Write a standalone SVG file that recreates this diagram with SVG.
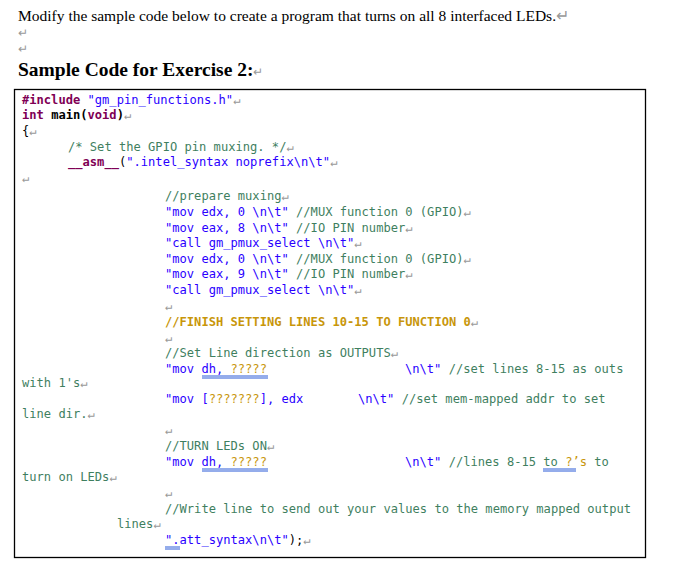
<svg xmlns="http://www.w3.org/2000/svg" width="679" height="577" viewBox="0 0 679 577">
<style>
.s{font-family:"Liberation Serif",serif;fill:#000}
.m{font-family:"DejaVu Sans Mono","Liberation Mono",monospace;font-size:12.1px;fill:#000}
.k{fill:#7f0055;font-weight:bold}
.b{font-weight:bold}
.q{fill:#2a00ff}
.c{fill:#3f7f5f}
.y{fill:#c8960a}
.yb{fill:#c8960a;font-weight:bold}
.r{fill:#999}
.u{stroke:#2a5bd7;stroke-width:1}
</style>
<rect width="679" height="577" fill="#fff"/>
<text class="s" x="18" y="21" font-size="15.5">Modify the sample code below to create a program that turns on all 8 interfaced LEDs.<tspan class="r">↵</tspan></text>
<text class="s r" x="18" y="37" font-size="12">↵</text>
<text class="s r" x="18" y="53" font-size="12">↵</text>
<text class="s b" x="18" y="76" font-size="19.5">Sample Code for Exercise 2:<tspan class="r" font-weight="normal" font-size="12">↵</tspan></text>
<rect x="14.5" y="89.5" width="631" height="468" fill="none" stroke="#000" stroke-width="1.3"/>
<g class="m" xml:space="preserve">
<text x="22" y="104"><tspan class="k">#include</tspan> <tspan class="q">"gm_pin_functions.h"</tspan><tspan class="r">↵</tspan></text>
<text x="22" y="119"><tspan class="k">int</tspan> <tspan class="b">main(</tspan><tspan class="k">void</tspan><tspan class="b">)</tspan><tspan class="r">↵</tspan></text>
<text x="22" y="135">{<tspan class="r">↵</tspan></text>
<text x="68" y="151"><tspan class="c">/* Set the GPIO pin muxing. */</tspan><tspan class="r">↵</tspan></text>
<text x="68" y="166"><tspan class="k">__asm__</tspan>(<tspan class="q">".intel_syntax noprefix\n\t"</tspan><tspan class="r">↵</tspan></text>
<text x="22" y="182" class="r">↵</text>
<text x="165" y="200"><tspan class="c">//prepare muxing</tspan><tspan class="r">↵</tspan></text>
<text x="165" y="216"><tspan class="q">"mov edx, 0 \n\t"</tspan> <tspan class="c">//MUX function 0 (GPIO)</tspan><tspan class="r">↵</tspan></text>
<text x="165" y="232"><tspan class="q">"mov eax, 8 \n\t"</tspan> <tspan class="c">//IO PIN number</tspan><tspan class="r">↵</tspan></text>
<text x="165" y="247"><tspan class="q">"call gm_pmux_select \n\t"</tspan><tspan class="r">↵</tspan></text>
<text x="165" y="263"><tspan class="q">"mov edx, 0 \n\t"</tspan> <tspan class="c">//MUX function 0 (GPIO)</tspan><tspan class="r">↵</tspan></text>
<text x="165" y="278"><tspan class="q">"mov eax, 9 \n\t"</tspan> <tspan class="c">//IO PIN number</tspan><tspan class="r">↵</tspan></text>
<text x="165" y="294"><tspan class="q">"call gm_pmux_select \n\t"</tspan><tspan class="r">↵</tspan></text>
<text x="165" y="310" class="r">↵</text>
<text x="165" y="326"><tspan class="yb">//FINISH SETTING LINES 10-15 TO FUNCTION 0</tspan><tspan class="r">↵</tspan></text>
<text x="165" y="342" class="r">↵</text>
<text x="165" y="357"><tspan class="c">//Set Line direction as OUTPUTS</tspan><tspan class="r">↵</tspan></text>
<text x="165" y="373"><tspan class="q">"mov dh, </tspan><tspan class="y">?????</tspan></text>
<text x="405" y="373"><tspan class="q">\n\t"</tspan>  <tspan class="c">//set lines 8-15 as outs</tspan></text>
<text x="22" y="387"><tspan class="c">with 1's</tspan><tspan class="r">↵</tspan></text>
<text x="165" y="403"><tspan class="q">"mov [</tspan><tspan class="y">???????</tspan><tspan class="q">], edx</tspan></text>
<text x="358" y="403"><tspan class="q">\n\t"</tspan>  <tspan class="c">//set mem-mapped addr to set</tspan></text>
<text x="22" y="418"><tspan class="c">line dir.</tspan><tspan class="r">↵</tspan></text>
<text x="165" y="434" class="r">↵</text>
<text x="165" y="450"><tspan class="c">//TURN LEDs ON</tspan><tspan class="r">↵</tspan></text>
<text x="165" y="466"><tspan class="q">"mov dh, </tspan><tspan class="y">?????</tspan></text>
<text x="405" y="466"><tspan class="q">\n\t"</tspan> <tspan class="c">//lines 8-15 to </tspan><tspan class="y">?’s</tspan><tspan class="c"> to</tspan></text>
<text x="22" y="481"><tspan class="c">turn on LEDs</tspan><tspan class="r">↵</tspan></text>
<text x="165" y="497" class="r">↵</text>
<text x="165" y="513"><tspan class="c">//Write line to send out your values to the memory mapped output</tspan></text>
<text x="117" y="528"><tspan class="c">lines</tspan><tspan class="r">↵</tspan></text>
<text x="165" y="544"><tspan class="q">".att_syntax\n\t"</tspan>);<tspan class="r">↵</tspan></text>
</g>
<g class="u">
<line x1="202" y1="376" x2="268" y2="376"/><line x1="202" y1="378" x2="268" y2="378"/>
<line x1="202" y1="469" x2="268" y2="469"/><line x1="202" y1="471" x2="268" y2="471"/>
<line x1="543" y1="469" x2="576" y2="469"/><line x1="543" y1="471" x2="576" y2="471"/>
<line x1="165" y1="547" x2="180" y2="547"/><line x1="165" y1="549" x2="180" y2="549"/>
</g>
</svg>
